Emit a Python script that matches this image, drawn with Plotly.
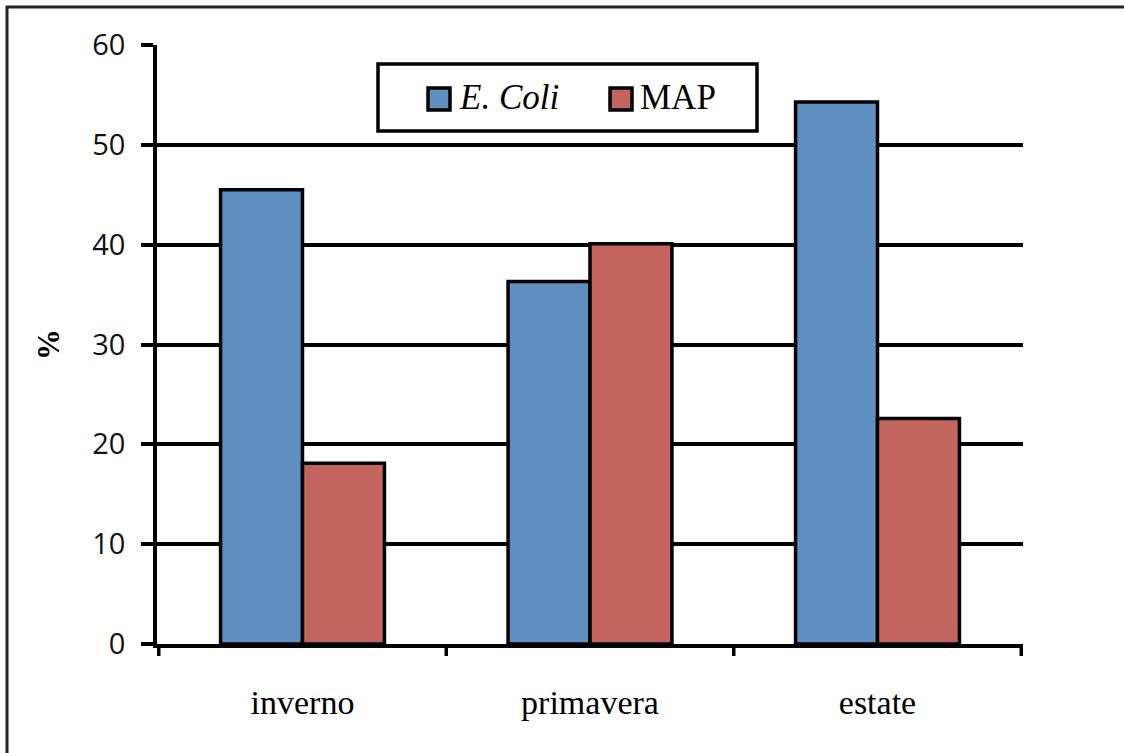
import plotly.graph_objects as go

# Seasonal prevalence (%) of E. coli and MAP
seasons = ["inverno", "primavera", "estate"]
ecoli = [45.5, 36.3, 54.3]
map_vals = [18.1, 40.1, 22.6]
y_ticks = [0, 10, 20, 30, 40, 50, 60]
legend_labels = ["<i>E. Coli</i>", "MAP"]

BLUE = "#5f8fc0"
RED = "#c3645e"

# Plot-area geometry in pixels, used to place the hand-built legend
W, H = 1124, 753
L, R, T, B = 157, 101, 45, 109
PW, PH = W - L - R, H - T - B


def px(x):
    return (x - L) / PW


def py(y):
    return (H - B - y) / PH


fig = go.Figure()
fig.add_trace(go.Bar(
    x=seasons, y=ecoli, name="E. Coli",
    marker=dict(color=BLUE, line=dict(color="black", width=3.5)),
))
fig.add_trace(go.Bar(
    x=seasons, y=map_vals, name="MAP",
    marker=dict(color=RED, line=dict(color="black", width=3.5)),
))

fig.update_layout(
    width=W, height=H,
    margin=dict(l=L, r=R, t=T, b=B),
    paper_bgcolor="white", plot_bgcolor="white",
    barmode="group", bargap=0.43, bargroupgap=0,
    showlegend=False,
    xaxis=dict(
        showline=True, linecolor="black", linewidth=3.5,
        ticks="", tickfont=dict(family="Liberation Serif", size=34, color="black"),
        ticklabelstandoff=25,
        showgrid=False,
    ),
    yaxis=dict(
        range=[0, 60], tickvals=y_ticks,
        showline=True, linecolor="black", linewidth=3.5,
        ticks="outside", ticklen=12, tickwidth=3.5, tickcolor="black",
        tickfont=dict(family="Open Sans", size=29, color="#111111"),
        ticklabelstandoff=10,
        showgrid=True, gridcolor="black", gridwidth=3.5,
        zeroline=False,
        title=dict(text="<b>%</b>", font=dict(family="Liberation Serif", size=31, color="black"),
                   standoff=24),
    ),
)

# Category boundary tick marks on the x axis
for xb in [-0.5, 0.5, 1.5, 2.5]:
    fig.add_shape(type="line", xref="x", yref="paper",
                  x0=xb, x1=xb, y0=0, y1=-0.02,
                  line=dict(color="black", width=3.5))

# Legend box
fig.add_shape(type="rect", xref="paper", yref="paper",
              x0=px(378), x1=px(757), y0=py(131), y1=py(64),
              fillcolor="white", line=dict(color="black", width=3.5), layer="above")

# Legend swatches and labels
for color, label, sx, tx in [(BLUE, legend_labels[0], 428, 457),
                             (RED, legend_labels[1], 610, 638)]:
    fig.add_shape(type="rect", xref="paper", yref="paper",
                  x0=px(sx), x1=px(sx + 22), y0=py(110), y1=py(88),
                  fillcolor=color, line=dict(color="black", width=3.5), layer="above")
    fig.add_annotation(xref="paper", yref="paper", x=px(tx), y=py(98),
                       xanchor="left", yanchor="middle", showarrow=False,
                       text=label,
                       font=dict(family="Liberation Serif", size=35, color="black"))

# Chart frame (top and left edges)
fig.add_shape(type="rect", xref="paper", yref="paper",
              x0=px(7), x1=1.2, y0=-0.3, y1=py(7),
              line=dict(color="#222222", width=3), layer="below")

fig.write_html("out.html")
